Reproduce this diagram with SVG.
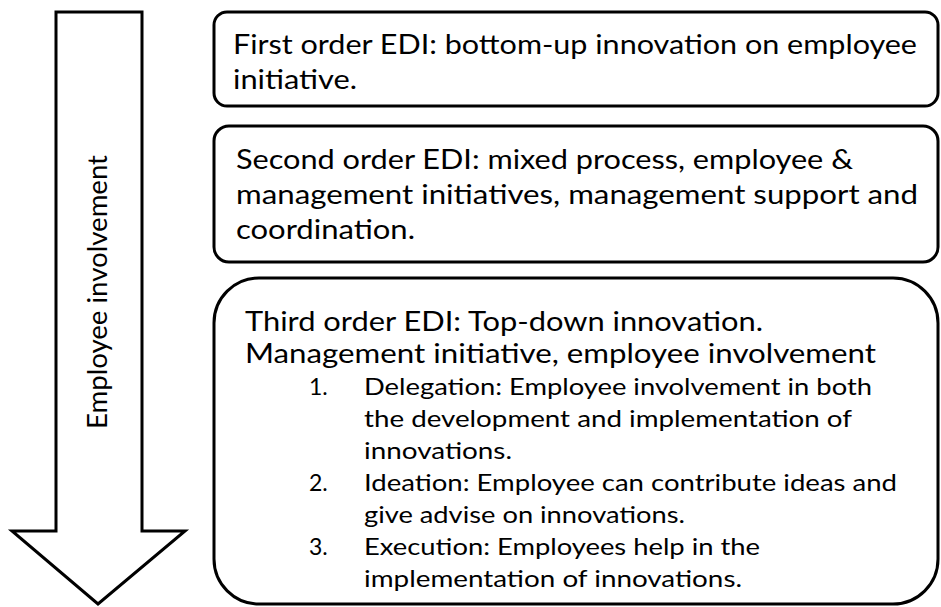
<svg xmlns="http://www.w3.org/2000/svg" width="941" height="607" viewBox="0 0 941 607">
<style>
.box{fill:#fff;stroke:#000;stroke-width:3}
.t{font-family:Lato,"Liberation Sans",sans-serif;fill:#000}
.h{font-size:26px}
.l{font-size:23px}
</style>
<rect width="941" height="607" fill="#fff"/>
<g id="connectors">
<path id="arrow" class="box" d="M56,12 H142 V531 H185 L98,604 L12,531 H56 Z"/>
<text class="t h" transform="translate(107,292) rotate(-90)" text-anchor="middle" textLength="274" lengthAdjust="spacingAndGlyphs">Employee involvement</text>
</g>
<g id="node1">
<rect class="box" x="214" y="12" width="724" height="94" rx="13"/>
<text class="t h" x="233" y="54" textLength="684" lengthAdjust="spacingAndGlyphs">First order EDI: bottom-up innovation on employee</text>
<text class="t h" x="233" y="89" textLength="124" lengthAdjust="spacingAndGlyphs">initiative.</text>
</g>
<g id="node2">
<rect class="box" x="214" y="126" width="724" height="136" rx="15"/>
<text class="t h" x="236" y="169" textLength="617" lengthAdjust="spacingAndGlyphs">Second order EDI: mixed process, employee &amp;</text>
<text class="t h" x="236" y="204" textLength="682" lengthAdjust="spacingAndGlyphs">management initiatives, management support and</text>
<text class="t h" x="236" y="239" textLength="179" lengthAdjust="spacingAndGlyphs">coordination.</text>
</g>
<g id="node3">
<rect class="box" x="214" y="278" width="724" height="326" rx="45"/>
<text class="t h" x="245" y="331" textLength="518" lengthAdjust="spacingAndGlyphs">Third order EDI: Top-down innovation.</text>
<text class="t h" x="245" y="363" textLength="631" lengthAdjust="spacingAndGlyphs">Management initiative, employee involvement</text>
<text class="t l" x="309" y="395">1.</text>
<text class="t l" x="364" y="395" textLength="508" lengthAdjust="spacingAndGlyphs">Delegation: Employee involvement in both</text>
<text class="t l" x="364" y="427" textLength="488" lengthAdjust="spacingAndGlyphs">the development and implementation of</text>
<text class="t l" x="364" y="459" textLength="148" lengthAdjust="spacingAndGlyphs">innovations.</text>
<text class="t l" x="309" y="491">2.</text>
<text class="t l" x="364" y="491" textLength="533" lengthAdjust="spacingAndGlyphs">Ideation: Employee can contribute ideas and</text>
<text class="t l" x="364" y="523" textLength="321" lengthAdjust="spacingAndGlyphs">give advise on innovations.</text>
<text class="t l" x="309" y="555">3.</text>
<text class="t l" x="364" y="555" textLength="396" lengthAdjust="spacingAndGlyphs">Execution: Employees help in the</text>
<text class="t l" x="364" y="587" textLength="378" lengthAdjust="spacingAndGlyphs">implementation of innovations.</text>
</g>
</svg>
